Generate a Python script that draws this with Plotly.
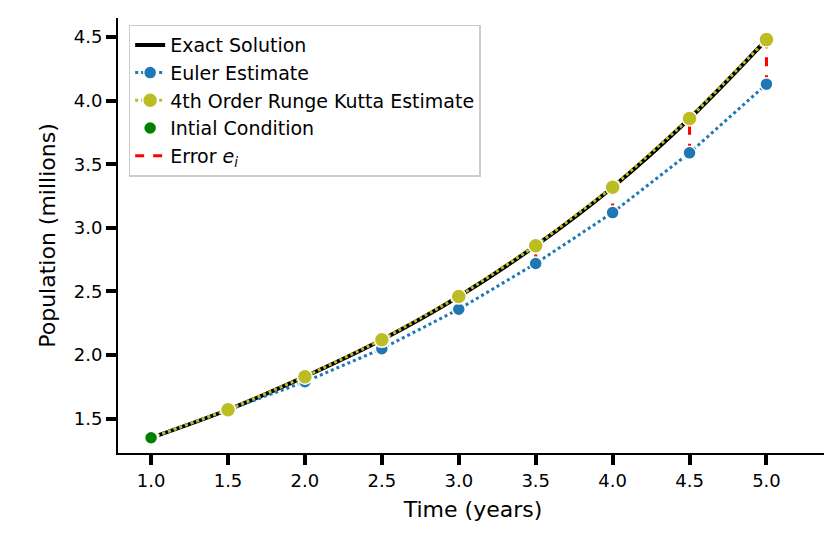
import plotly.graph_objects as go

t = [1.0, 1.5, 2.0, 2.5, 3.0, 3.5, 4.0, 4.5, 5.0]
exact = [1.35, 1.57, 1.83, 2.12, 2.46, 2.86, 3.32, 3.86, 4.48]
euler = [1.35, 1.57, 1.79, 2.05, 2.36, 2.72, 3.12, 3.59, 4.13]
rk4 = [1.35, 1.57, 1.83, 2.12, 2.46, 2.86, 3.32, 3.86, 4.48]
tick_x = [1.0, 1.5, 2.0, 2.5, 3.0, 3.5, 4.0, 4.5, 5.0]
tick_y = [1.5, 2.0, 2.5, 3.0, 3.5, 4.0, 4.5]

ex, ey = [], []
for ti, a, b in zip(t, euler, rk4):
    ex += [ti, ti, None]
    ey += [a, b, None]

fig = go.Figure()
fig.add_trace(go.Scatter(x=ex, y=ey, mode="lines", name="Error <i>e<sub>i</sub></i>", legendrank=5,
                         line=dict(color="red", width=3, dash="dash")))
fig.add_trace(go.Scatter(x=t, y=exact, mode="lines", name="Exact Solution", legendrank=1,
                         line=dict(color="black", width=4, shape="spline")))
fig.add_trace(go.Scatter(x=t, y=euler, mode="lines+markers", name="Euler Estimate", legendrank=2,
                         line=dict(color="#1f77b4", width=3, dash="dot"),
                         marker=dict(size=13, color="#1f77b4", line=dict(color="white", width=1.5))))
fig.add_trace(go.Scatter(x=t, y=rk4, mode="lines+markers", name="4th Order Runge Kutta Estimate", legendrank=3,
                         line=dict(color="#bcbd22", width=3, dash="dot"),
                         marker=dict(size=15, color="#bcbd22", line=dict(color="white", width=1.5))))
fig.add_trace(go.Scatter(x=[t[0]], y=[exact[0]], mode="markers", name="Intial Condition", legendrank=4,
                         marker=dict(size=13, color="green", line=dict(color="white", width=1.5))))

fig.update_layout(
    width=832, height=544, paper_bgcolor="white", plot_bgcolor="white",
    margin=dict(l=110, r=12, t=10, b=99),
    font=dict(family="DejaVu Sans", size=18, color="black"),
    legend=dict(x=0.015, y=0.985, xanchor="left", yanchor="top",
                bordercolor="#cccccc", borderwidth=1.5, bgcolor="white",
                font=dict(size=19), tracegroupgap=0),
    xaxis=dict(range=[0.785, 5.40], tickvals=tick_x, ticktext=[f"{v:.1f}" for v in tick_x],
               automargin=False,
               showgrid=False, zeroline=False, showline=True, linecolor="black", linewidth=2,
               ticks="outside", ticklen=10, tickwidth=4, tickcolor="black",
               title=dict(text="Time (years)", font=dict(size=22), standoff=12)),
    yaxis=dict(range=[1.23, 4.65], tickvals=tick_y, ticktext=[f"{v:.1f}" for v in tick_y],
               automargin=False,
               showgrid=False, zeroline=False, showline=True, linecolor="black", linewidth=2,
               ticks="outside", ticklen=10, tickwidth=4, tickcolor="black",
               title=dict(text="Population (millions)", font=dict(size=22), standoff=12)),
)
fig.write_html("out.html")
